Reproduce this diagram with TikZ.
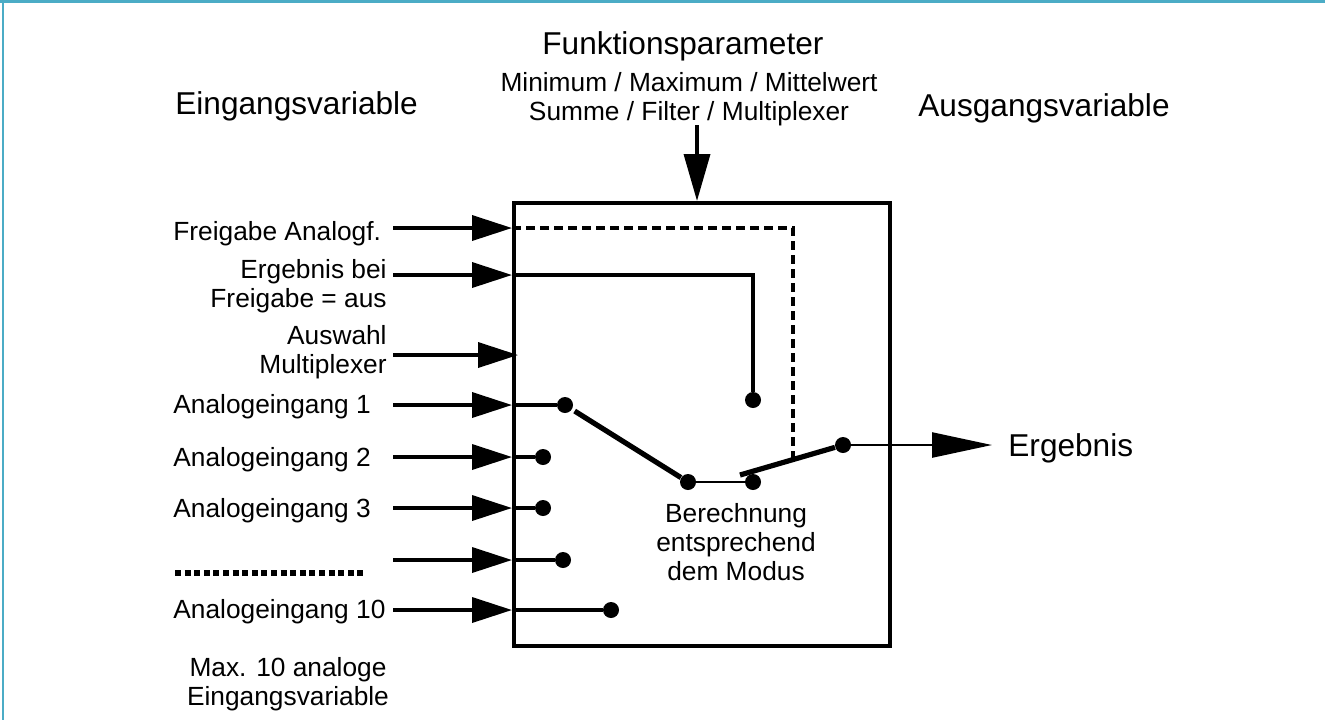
\documentclass[tikz,border=0pt]{standalone}
\usepackage{fontspec}
\setmainfont{Liberation Sans}
\usepackage{xcolor}
\usetikzlibrary{arrows.meta,positioning}
\definecolor{frameblue}{RGB}{75,172,198}

\begin{document}
\begin{tikzpicture}[x=0.5pt,y=-0.5pt,>={Triangle[length=20pt,width=12.5pt]},
  big label/.style={font=\fontsize{15.8}{19}\selectfont,inner sep=0pt},
  small label/.style={font=\fontsize{13.15}{14.5}\selectfont,inner sep=0pt},
  dot/.style={circle,fill,inner sep=0pt,minimum size=8pt},
  wire/.style={line width=1.8pt},
  lever/.style={line width=2.6pt},
  thin wire/.style={line width=1.2pt}]

  \useasboundingbox (0,0) rectangle (1325,720);
  \fill[frameblue] (0,0) rectangle (1325,3);
  \fill[frameblue] (2,0) rectangle (4,720);

  % headings
  \node[big label,anchor=base west] (inhead) at (175,114) {Eingangsvariable};
  \node[big label,anchor=base west] (outhead) at (918,116) {Ausgangsvariable};
  \node[big label,anchor=base west] (fphead) at (542,54) {Funktionsparameter};
  \node[small label,anchor=north,align=center] (fplist) at (689,72)
    {Minimum / Maximum / Mittelwert\\Summe / Filter / Multiplexer};

  % block
  \node[draw,line width=2pt,anchor=north west,minimum width=188pt,minimum height=221.5pt] (box) at (512,201) {};
  \coordinate (sfp) at (697,125);
  \draw[wire,-{Triangle[length=23.5pt,width=13pt]}] (sfp) -- (sfp |- box.north);

  % input labels
  \node[small label,anchor=base west] (lfa) at (173,240) {Freigabe Analogf.};
  \node[small label,anchor=east,align=right] (leb) at (387,286) {Ergebnis bei\\Freigabe = aus};
  \node[small label,anchor=east,align=right] (lam) at (387,352) {Auswahl\\Multiplexer};
  \node[small label,anchor=base west] (l1) at (173,413) {Analogeingang 1};
  \node[small label,anchor=base west] (l2) at (173,466) {Analogeingang 2};
  \node[small label,anchor=base west] (l3) at (173,517) {Analogeingang 3};
  \node[small label,anchor=base west] (l10) at (173,618) {Analogeingang 10};
  \draw[line width=2.6pt,dash pattern=on 3pt off 1.8pt] (175,573) -- (366,573);
  \node[small label,anchor=north,align=center] (lmax) at (288,657) {Max. 10 analoge\\Eingangsvariable};

  % contacts
  \node[dot] (d1) at (565,405) {};
  \node[dot] (d2) at (543,457) {};
  \node[dot] (d3) at (543,508) {};
  \node[dot] (dn) at (563,560) {};
  \node[dot] (d10) at (611,610) {};
  \node[dot] (dfb) at (753,400) {};
  \node[dot] (dc1) at (688,482) {};
  \node[dot] (dc2) at (753,482) {};
  \node[dot] (dout) at (843,445) {};

  % input arrows
  \foreach \n/\y in {1/405,2/457,3/508,n/560,10/610}{
    \coordinate (s\n) at (393,\y);
    \draw[wire,->] (s\n) -- (box.west |- d\n);
    \draw[wire] (box.west |- d\n) -- (d\n);
  }
  \coordinate (sfa) at (393,228);
  \coordinate (seb) at (393,275);
  \coordinate (sam) at (393,355);
  \coordinate (eam) at (518,355);
  \coordinate (mk) at (793,460);
  \draw[wire,->] (sfa) -- (box.west |- sfa);
  \draw[wire,dash pattern=on 4.5pt off 2.5pt] (box.west |- sfa) -| (mk);
  \draw[wire,->] (seb) -- (box.west |- seb);
  \draw[wire] (box.west |- seb) -| (dfb);
  \draw[wire,->] (sam) -- (eam);

  % switch
  \coordinate (lvs) at (740,475);
  \draw[lever,shorten <=1.5pt] (d1) -- (dc1);
  \draw[thin wire] (dc1) -- (dc2);
  \draw[lever] (lvs) -- (dout);
  \node[small label,anchor=north,align=center] (calc) at (736,503) {Berechnung\\entsprechend\\dem Modus};

  % output
  \coordinate (eout) at (992,445);
  \draw[thin wire,-{Triangle[length=30pt,width=12.5pt]}] (dout) -- (eout);
  \node[big label,anchor=base west] (lout) at (1008,456) {Ergebnis};
\end{tikzpicture}
\end{document}
